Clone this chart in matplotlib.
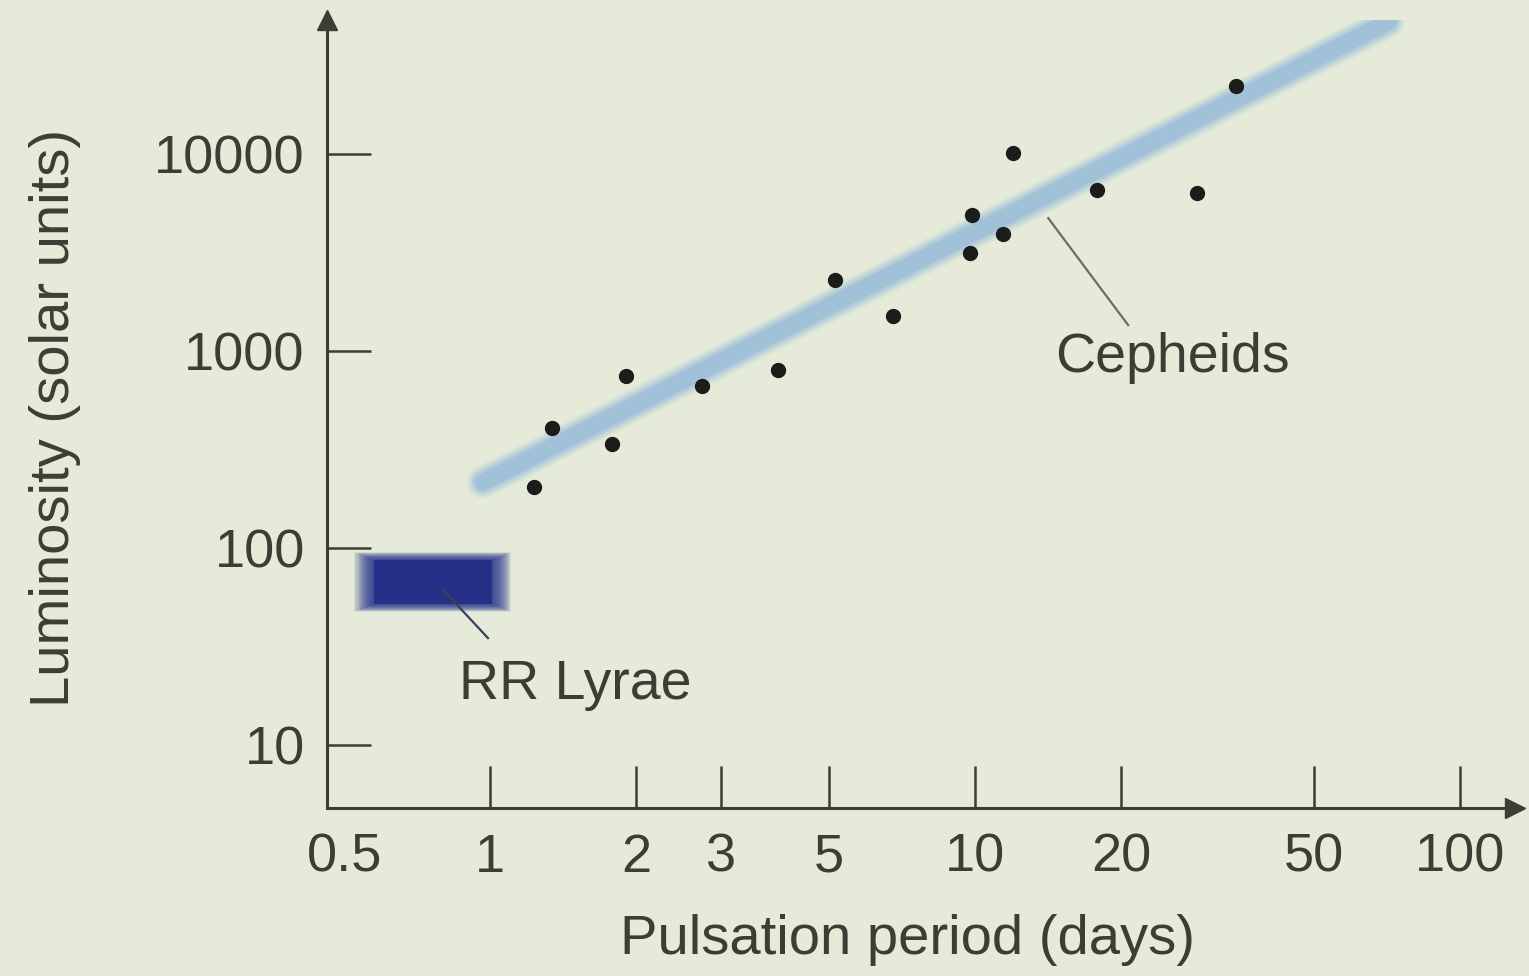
import matplotlib
matplotlib.use("Agg")
import matplotlib.pyplot as plt
from matplotlib.patches import Rectangle
import numpy as np

# ---- data ----
cepheid_period = [1.23, 1.34, 1.78, 1.91, 2.74, 3.92, 5.14, 6.78, 9.77, 9.86, 11.4, 12.0, 17.8, 28.7, 34.5]
cepheid_lum = [204, 406, 338, 747, 664, 801, 2290, 1507, 3140, 4900, 3930, 10100, 6560, 6340, 22100]
fit_period = [0.967, 71.1]
fit_lum = [216, 46800]
rr_period = [0.575, 1.01]
rr_lum = [52, 87]
x_ticks = [0.5, 1, 2, 3, 5, 10, 20, 50, 100]
x_ticklabels = ["0.5", "1", "2", "3", "5", "10", "20", "50", "100"]
y_ticks = [10, 100, 1000, 10000]
y_ticklabels = ["10", "100", "1000", "10000"]

BG = "#e5ebd8"
INK = "#3b3e34"
plt.rcParams['font.family'] = ['Liberation Sans', 'DejaVu Sans']

fig = plt.figure(figsize=(15.29, 9.76), dpi=100, facecolor=BG)
ax = fig.add_axes([327/1529, 1-808/976, (1515-327)/1529, (808-20)/976])
ax.set_facecolor(BG)
ax.set_xscale('log')
ax.set_yscale('log')
ax.set_xlim(0.461, 129.8)
ax.set_ylim(4.79, 47900)

# fitted relation: soft thick light-blue band
for lw, a in [(24, 0.15), (20, 0.3), (16, 0.5), (12, 0.9)]:
    ax.plot(fit_period, fit_lum, color="#9fc0da", lw=lw, alpha=a,
            solid_capstyle='round', zorder=2)

# RR Lyrae: blurred dark blue box
x0, x1 = np.log10(rr_period)
y0, y1 = np.log10(rr_lum)
n = 18
for i in range(n):
    e = (n - i) * 0.0022
    ax.add_patch(Rectangle((10**(x0 - e), 10**(y0 - e)),
                           10**(x1 + e) - 10**(x0 - e), 10**(y1 + e) - 10**(y0 - e),
                           facecolor="#23308a", edgecolor='none', alpha=0.09, zorder=2))
ax.add_patch(Rectangle((rr_period[0], rr_lum[0]), rr_period[1] - rr_period[0],
                       rr_lum[1] - rr_lum[0], facecolor="#222e86", edgecolor='none',
                       alpha=0.9, zorder=2))

# Cepheid points
ax.plot(cepheid_period, cepheid_lum, 'o', color="#1c1c1a", ms=10, zorder=4)

# annotations
ax.plot([14.15, 20.68], [4730, 1355], color="#6a6e60", lw=1.6, zorder=3)
ax.text(25.5, 920, "Cepheids", fontsize=40, color=INK, ha='center', va='center')
ax.plot([0.80, 0.99], [61.3, 34.9], color="#3a3f5a", lw=1.6, zorder=3)
ax.text(1.50, 20.2, "RR Lyrae", fontsize=40, color=INK, ha='center', va='center')

# axes styling
for s in ['top', 'right']:
    ax.spines[s].set_visible(False)
for s in ['left', 'bottom']:
    ax.spines[s].set_color(INK)
    ax.spines[s].set_linewidth(2.2)

ax.set_xticks(x_ticks)
ax.set_xticklabels(x_ticklabels)
ax.set_yticks(y_ticks)
ax.set_yticklabels(y_ticklabels)
ax.minorticks_off()
ax.tick_params(axis='x', direction='in', length=30, width=1.8, color=INK,
               labelsize=39, labelcolor=INK, pad=18)
ax.tick_params(axis='y', direction='in', length=32, width=1.8, color=INK,
               labelsize=39, labelcolor=INK, pad=16)
ax.xaxis.get_major_ticks()[0].tick1line.set_visible(False)

# arrowheads
ax.plot([0], [1], marker='^', ms=14, color=INK, transform=ax.transAxes, clip_on=False)
ax.plot([1], [0], marker='>', ms=14, color=INK, transform=ax.transAxes, clip_on=False)

fig.text(908/1529, 1-940/976, "Pulsation period (days)", fontsize=40.5, color=INK,
         ha='center', va='center')
fig.text(55/1529, 1-418/976, "Luminosity (solar units)", fontsize=40.5, color=INK,
         ha='center', va='center', rotation=90)

fig.savefig("out.png", dpi=100, facecolor=BG)
